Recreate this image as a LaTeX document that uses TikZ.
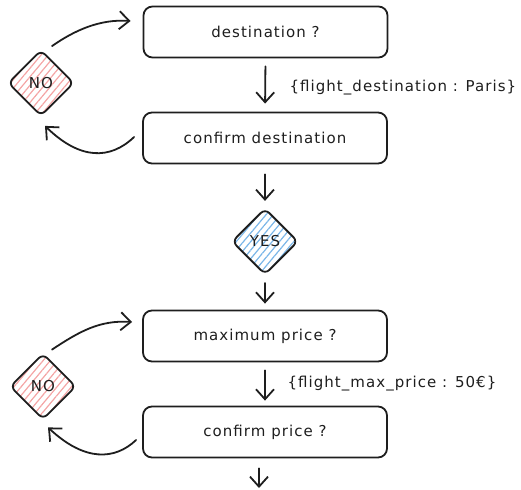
\documentclass[tikz,border=0pt]{standalone}
\usepackage{fontspec}
\setmainfont[LetterSpace=7]{DejaVu Sans}
\usetikzlibrary{arrows.meta,shapes.geometric,patterns.meta}
\definecolor{ink}{HTML}{1E1E1E}
\definecolor{nohatch}{HTML}{F4A4A4}
\definecolor{yeshatch}{HTML}{7AB6E8}
\begin{document}
\begin{tikzpicture}[x=1pt,y=-1pt,
  stepbox/.style={draw=ink, line width=1.8pt, rounded corners=9pt,
    minimum width=244pt, minimum height=51pt, inner sep=0pt,
    text=ink, font=\fontsize{15}{17}\selectfont},
  choice/.style={diamond, aspect=1, draw=ink, line width=1.8pt,
    rounded corners=6pt, minimum width=66pt, minimum height=66pt, inner sep=0pt,
    text=ink, font=\fontsize{15}{17}\selectfont,
    pattern={Lines[angle=50,distance=5.5pt,line width=1.2pt]}},
  nochoice/.style={choice, pattern color=nohatch},
  yeschoice/.style={choice, pattern color=yeshatch},
  arr/.style={draw=ink, line width=1.8pt, line cap=round, line join=round,
    -{Straight Barb[length=10pt,width=18pt,line width=1.8pt]}},
  lbl/.style={anchor=west, text=ink, font=\fontsize{15}{17}\selectfont}]
\useasboundingbox (0,0) rectangle (521,489);

% steps of the dialogue
\node[stepbox] (b1) at (265.5,32) {destination ?};
\node[stepbox] (b2) at (265,138) {confirm destination};
\node[yeschoice] (yes) at (265,241.5) {YES};
\node[stepbox] (b3) at (265,336) {maximum price ?};
\node[stepbox] (b4) at (265,432) {confirm price ?};
\node[nochoice] (no1) at (41,83) {NO};
\node[nochoice] (no2) at (43,386.5) {NO};
\coordinate (out) at (259,488);

% slot values
\node[lbl] (l1) at (286,88) {\{flight\_destination : Paris\}};
\node[lbl] (l2) at (284,384) {\{flight\_max\_price : 50€\}};

% main flow
\draw[arr, shorten <=8pt, shorten >=8pt] (b1.south) -- (b2.north);
\draw[arr, shorten <=10pt, shorten >=7pt] (b2.south) -- (yes.north);
\draw[arr, shorten <=8pt, shorten >=6pt] (yes.south) -- (b3.north);
\draw[arr, shorten <=8pt, shorten >=5pt] (b3.south) -- (b4.north);
\draw[arr, shorten <=10pt] ([xshift=-6pt]b4.south) -- (out);

% rejection loops
\draw[arr] ([xshift=11pt,yshift=3pt]no1.north) .. controls (75,30) and (100,19) .. ([xshift=-12pt,yshift=11pt]b1.west);
\draw[arr] ([xshift=-8pt,yshift=1pt]b2.west) .. controls (110,160) and (80,160) .. ([xshift=4pt,yshift=-9pt]no1.south);
\draw[arr] ([xshift=9pt,yshift=3pt]no2.north) .. controls (80,331) and (100,320) .. ([xshift=-10pt,yshift=14pt]b3.west);
\draw[arr] ([xshift=-6pt,yshift=-8pt]b4.west) .. controls (115,460) and (85,462) .. ([xshift=5pt,yshift=-7pt]no2.south);
\end{tikzpicture}
\end{document}
